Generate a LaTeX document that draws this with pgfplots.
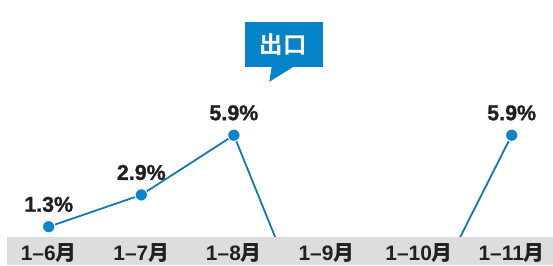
\documentclass[border=0pt]{standalone}
\usepackage{fontspec}
\setmainfont{Liberation Sans}
\newfontfamily\cjkb{Noto Sans CJK SC Bold}
\newfontfamily\heavy{Liberation Sans Bold}[FakeBold=1.2]
\usepackage{pgfplots}
\pgfplotsset{compat=1.18}
\definecolor{linec}{HTML}{1577AA}
\definecolor{dotc}{HTML}{0786CE}
\definecolor{bandc}{HTML}{DCDDDE}
\definecolor{callc}{HTML}{0683C9}
\definecolor{txt}{HTML}{231F20}
\newcommand\tl[1]{\fontsize{21}{21}\selectfont\bfseries 1–#1{\cjkb 月}}
\begin{document}
\begin{tikzpicture}
\begin{axis}[
  scale only axis, width=553bp, height=264bp,
  xmin=-0.526, xmax=5.446, ymin=-0.578, ymax=12.69,
  axis line style={draw=none}, major tick length=0pt,
  axis on top,
  /pgf/number format/assume math mode=true,
  ytick=\empty, xtick={0,1,2,3,4,5},
  xticklabels={\tl{6},\tl{7},\tl{8},\tl{9},\tl{10},\tl{11}},
  xticklabel style={anchor=base, yshift=4bp, text=txt},
  clip=true,
]
\addplot[linec, line width=1.8bp] coordinates {(0,1.3)(1,2.9)(2,5.9)(3,-5.6)(4,-3.3)(5,5.9)};
\addplot[only marks, mark=*, mark size=6.2bp, mark options={fill=dotc, draw=white, line width=1bp},
  point meta=explicit,
  nodes near coords={\pgfmathprintnumber[fixed,precision=1,fixed zerofill]{\pgfplotspointmeta}\%},
  nodes near coords style={anchor=base, yshift=15bp, font=\fontsize{21.5}{22}\selectfont\heavy, text=txt}]
  coordinates {(0,1.3)[1.3] (1,2.9)[2.9] (2,5.9)[5.9] (5,5.9)[5.9]};
\fill[bandc] (rel axis cs:0.0132,-0.05) rectangle (rel axis cs:1.01,0.1034);
\fill[callc] (rel axis cs:0.443,0.746) rectangle (rel axis cs:0.5846,0.9178);
\fill[callc] (rel axis cs:0.4913,0.747) -- (rel axis cs:0.487,0.6905) -- (rel axis cs:0.5304,0.747) -- cycle;
\node[text=white, font=\fontsize{23.5}{24}\selectfont\cjkb] at (rel axis cs:0.5123,0.8333) {出口};
\end{axis}
\end{tikzpicture}
\end{document}
